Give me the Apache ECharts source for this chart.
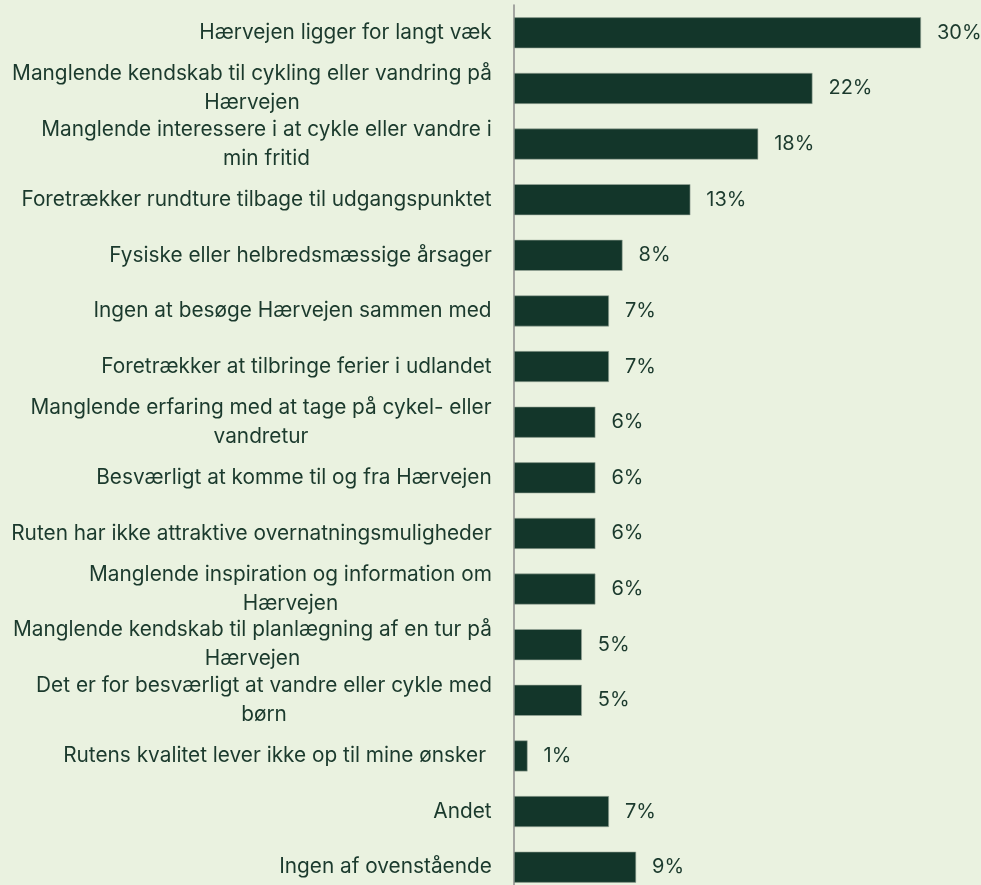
<!DOCTYPE html>
<html>
<head>
<meta charset="utf-8">
<script src="https://cdn.jsdelivr.net/npm/echarts@6/dist/echarts.min.js"></script>
<style>
  html, body { margin: 0; padding: 0; background: #eaf2e0; overflow: hidden; }
  #chart { width: 981px; height: 900px; }
</style>
</head>
<body>
<div id="chart"></div>
<script>
// kategorier, top til bund (\n = linjeskift som i originalen)
const categories = [
  'Hærvejen ligger for langt væk',
  'Manglende kendskab til cykling eller vandring på\nHærvejen',
  'Manglende interessere i at cykle eller vandre i\nmin fritid',
  'Foretrækker rundture tilbage til udgangspunktet',
  'Fysiske eller helbredsmæssige årsager',
  'Ingen at besøge Hærvejen sammen med',
  'Foretrækker at tilbringe ferier i udlandet',
  'Manglende erfaring med at tage på cykel- eller\nvandretur',
  'Besværligt at komme til og fra Hærvejen',
  'Ruten har ikke attraktive overnatningsmuligheder',
  'Manglende inspiration og information om\nHærvejen',
  'Manglende kendskab til planlægning af en tur på\nHærvejen',
  'Det er for besværligt at vandre eller cykle med\nbørn',
  'Rutens kvalitet lever ikke op til mine ønsker ',
  'Andet',
  'Ingen af ovenstående'
]
const values = [30, 22, 18, 13, 8, 7, 7, 6, 6, 6, 6, 5, 5, 1, 7, 9]

const FONT = 'Inter'
const FS = 20.8
const TEXT = '#1b3a2d'

// mål tekstbredde, så linjerne kan centreres inden for hver label
const ctx = document.createElement('canvas').getContext('2d')
ctx.font = FS + 'px ' + FONT
const rich = {}
categories.forEach((c, i) => {
  const w = Math.max(...c.split('\n').map(l => ctx.measureText(l).width))
  rich['r' + i] = { width: Math.ceil(w), align: 'center', fontSize: FS, fontFamily: FONT, color: TEXT, lineHeight: 29 }
})

const chart = echarts.init(document.getElementById('chart'))
chart.setOption({
  backgroundColor: '#eaf2e0',
  animation: false,
  grid: { left: 514, right: 60, top: 5, bottom: 5 },
  xAxis: {
    type: 'value',
    min: 0,
    max: 30,
    show: false
  },
  yAxis: {
    type: 'category',
    inverse: true,
    data: categories,
    axisTick: { show: false },
    axisLine: { show: true, lineStyle: { color: '#8c8c8c', width: 1.5 } },
    axisLabel: {
      margin: 22,
      formatter: (v, i) => v.split('\n').map(l => '{r' + i + '|' + l + '}').join('\n'),
      rich: rich
    }
  },
  series: [{
    type: 'bar',
    data: values,
    barWidth: 31,
    itemStyle: { color: '#13362a', borderColor: '#9aa89a', borderWidth: 0.6 },
    label: {
      show: true,
      position: 'right',
      distance: 16,
      formatter: '{c}%',
      fontSize: 20,
      fontFamily: FONT,
      color: TEXT
    }
  }]
})
</script>
</body>
</html>
